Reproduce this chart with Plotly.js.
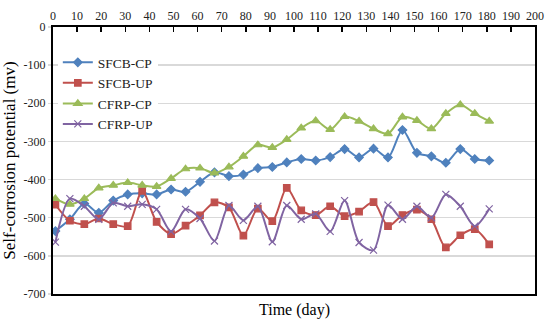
<!DOCTYPE html>
<html><head><meta charset="utf-8">
<script src="https://cdn.plot.ly/plotly-3.0.1.min.js"></script>
<style>html,body{margin:0;padding:0;background:#fff}#chart{width:550px;height:321px}</style>
</head><body><div id="chart"></div>
<script>
const days = [1,7,13,19,25,31,37,43,49,55,61,67,73,79,85,91,97,103,109,115,121,127,133,139,145,151,157,163,169,175,181];
const sfcbCP = [-535,-504,-463,-487,-455,-439,-436,-439,-426,-432,-406,-381,-391,-387,-370,-367,-355,-346,-350,-341,-320,-342,-319,-342,-270,-330,-339,-356,-320,-346,-350];
const sfcbUP = [-466,-508,-517,-502,-517,-522,-430,-511,-543,-521,-494,-460,-473,-547,-476,-509,-422,-481,-493,-470,-496,-484,-459,-522,-493,-479,-504,-578,-546,-530,-570];
const cfrpCP = [-450,-465,-450,-422,-415,-408,-415,-418,-397,-372,-370,-383,-367,-339,-309,-316,-295,-265,-246,-269,-235,-247,-267,-280,-236,-245,-267,-227,-204,-227,-247];
const cfrpUP = [-564,-450,-470,-504,-461,-470,-465,-478,-536,-478,-502,-561,-468,-507,-470,-563,-468,-504,-490,-536,-455,-565,-585,-467,-504,-470,-500,-439,-470,-522,-477];
const seriesNames = ['SFCB-CP','SFCB-UP','CFRP-CP','CFRP-UP'];
const xTickVals = [0,10,20,30,40,50,60,70,80,90,100,110,120,130,140,150,160,170,180,190,200];
const yTickVals = [0,-100,-200,-300,-400,-500,-600,-700];
const yTickLabels = ['0','-100','-200','-300','-400','-500','-600','-700'];

const FONT = 'Liberation Serif, Times New Roman, serif';
const colors = ['#4F81BD','#C0504D','#9BBB59','#8064A2'];
const symbols = ['diamond','square','triangle-up','x-thin'];
const sizes = [6.5,6.5,7.5,7];
const ys = [sfcbCP, sfcbUP, cfrpCP, cfrpUP];

const traces = ys.map((y,i)=>({
  type:'scatter', mode:'lines+markers', x:days, y:y, name:seriesNames[i],
  line:{color:colors[i], width:2, shape:'spline', smoothing:0.8},
  marker:{color:colors[i], symbol:symbols[i], size:sizes[i], line:{color:colors[i], width:1.2}}
}));

const layout = {
  width:550, height:321,
  margin:{l:53, r:15, t:27, b:27},
  paper_bgcolor:'#fff', plot_bgcolor:'#fff',
  font:{family:FONT, color:'#222'},
  showlegend:true,
  legend:{x:0.01, y:0.925, xanchor:'left', yanchor:'top', bgcolor:'#fff', borderwidth:0,
          font:{family:FONT, size:13.5, color:'#222'}, tracegroupgap:0},
  xaxis:{side:'top', range:[0,200], tickvals:xTickVals, showgrid:false, zeroline:false,
         ticks:'inside', ticklen:5, tickwidth:1.5, tickcolor:'#000',
         showline:true, linecolor:'#000', linewidth:2, mirror:true,
         tickfont:{family:FONT, size:12, color:'#222'}},
  yaxis:{range:[-700,0], tickvals:yTickVals, ticktext:yTickLabels, showgrid:true,
         gridcolor:'#d9d9d9', gridwidth:1.5, zeroline:false,
         ticks:'outside', ticklen:3, tickcolor:'#d9d9d9', tickwidth:1.5,
         showline:true, linecolor:'#000', linewidth:2, mirror:true,
         tickfont:{family:FONT, size:12, color:'#222'},
         title:{text:'Self-corrosion potential (mv)', font:{family:FONT, size:17, color:'#000'}, standoff:4}},
  annotations:[{text:'Time (day)', xref:'paper', yref:'paper', x:0.5, y:0, yshift:-16,
                xanchor:'center', yanchor:'middle', showarrow:false,
                font:{family:FONT, size:16, color:'#000'}}]
};
Plotly.newPlot('chart', traces, layout, {staticPlot:true, displayModeBar:false});
</script>
</body></html>
